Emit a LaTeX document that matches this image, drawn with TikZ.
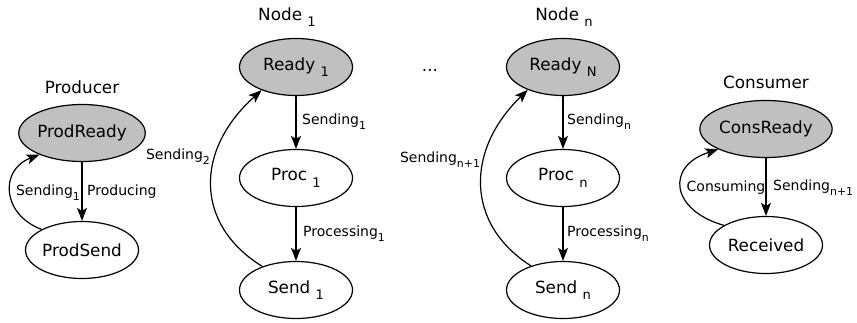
\documentclass[tikz,border=0pt]{standalone}
\usepackage{fontspec}
\usepackage{graphicx}
\setmainfont{DejaVu Sans}
\usetikzlibrary{shapes.geometric,arrows.meta}
\definecolor{stategray}{RGB}{192,192,192}
\newcommand\sbs[1]{\raisebox{-0.38em}{\scalebox{0.78}{#1}}}
\tikzset{
  state/.style={ellipse,draw,line width=1.2pt,minimum width=113pt,minimum height=57pt,inner sep=0pt,font=\fontsize{16.8}{20}\selectfont},
  init/.style={state,fill=stategray},
  ttl/.style={inner sep=0pt,font=\fontsize{16.8}{20}\selectfont},
  lbl/.style={inner sep=0pt,font=\fontsize{14}{16}\selectfont},
  arr/.style={line width=1.2pt,-{Stealth[length=13pt,width=10pt,inset=3pt]}}
}
\begin{document}
\begin{tikzpicture}[x=1pt,y=1pt]
\useasboundingbox (0,0) rectangle (857,-322);
% Producer
\node[ttl] (tp) at (82,-87) {Producer};
\node[init] (pr) at (82,-133) {ProdReady};
\node[state] (ps) at (82,-250) {ProdSend};
\draw[arr] (pr) -- (ps);
\draw[arr] (ps.153) .. controls +(-40,15) and +(-40,-15) .. (pr.207);
\node[lbl,anchor=west] (lprod) at (87,-192) {Producing};
\node[lbl] (lps) at (48,-193) {Sending\sbs{1}};
% Node 1
\node[ttl] (t1) at (287,-17) {Node \sbs{1}};
\node[init] (r1) at (296,-67) {Ready \sbs{1}};
\node[state] (p1) at (296,-178) {Proc \sbs{1}};
\node[state] (s1) at (296,-290) {Send \sbs{1}};
\draw[arr] (r1) -- (p1);
\draw[arr] (p1) -- (s1);
\draw[arr] (s1.145) .. controls +(-68,42) and +(-67,-60) .. (r1.214);
\node[lbl,anchor=west] (ls1) at (302,-122) {Sending\sbs{1}};
\node[lbl,anchor=west] (lp1) at (303,-234) {Processing\sbs{1}};
\node[lbl] (ls2) at (178,-157) {Sending\sbs{2}};
% dots
\node[ttl] (dots) at (430,-70) {...};
% Node n
\node[ttl] (tn) at (564,-17) {Node \sbs{n}};
\node[init] (rn) at (563,-67) {Ready \sbs{N}};
\node[state] (pn) at (563,-178) {Proc \sbs{n}};
\node[state] (sn) at (563,-290) {Send \sbs{n}};
\draw[arr] (rn) -- (pn);
\draw[arr] (pn) -- (sn);
\draw[arr] (sn.143) .. controls +(-66,42) and +(-62,-60) .. (rn.213);
\node[lbl,anchor=west] (lsn) at (567,-122) {Sending\sbs{n}};
\node[lbl,anchor=west] (lpn) at (567,-234) {Processing\sbs{n}};
\node[lbl] (lsn1) at (440,-160) {Sending\sbs{n+1}};
% Consumer
\node[ttl] (tc) at (766,-82) {Consumer};
\node[init] (cr) at (766,-129) {ConsReady};
\node[state] (rc) at (766,-245) {Received};
\draw[arr] (cr) -- (rc);
\draw[arr] (rc.155) .. controls +(-53,15) and +(-53,-17) .. (cr.203);
\node[lbl,anchor=west] (lcs) at (773,-188) {Sending\sbs{n+1}};
\node[lbl] (lcons) at (726,-188) {Consuming};
\end{tikzpicture}
\end{document}
